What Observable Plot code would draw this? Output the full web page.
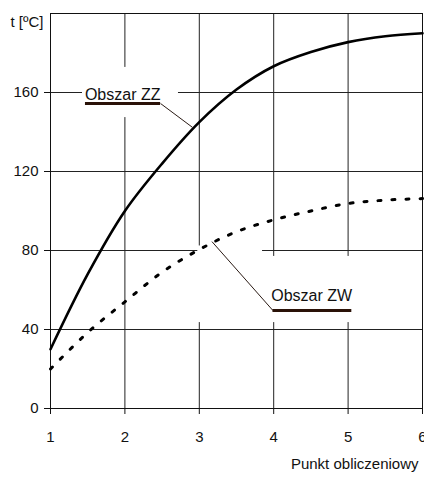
<!DOCTYPE html>
<html>
<head>
<meta charset="utf-8">
<script src="https://cdn.jsdelivr.net/npm/d3@7"></script>
<script src="https://cdn.jsdelivr.net/npm/@observablehq/plot@0.6"></script>
<style>
  html, body { margin: 0; padding: 0; background: #fff; }
  svg { display: block; }
</style>
</head>
<body>
<div id="chart"></div>
<script>
// Data
const points = [1, 1.5, 2, 2.5, 3, 3.5, 4, 4.5, 5, 5.5, 6];
const zzValues = [30, 68, 100, 124, 145, 161.5, 173.3, 180.5, 185.5, 188.5, 190];
const zwValues = [20, 38.5, 54, 69, 80.5, 89.5, 95.5, 100, 103.8, 105.5, 106.3];
const xTicks = [1, 2, 3, 4, 5, 6];
const yTicks = [0, 40, 80, 120, 160];
const xGrid = [2, 3, 4, 5];
const yGrid = [40, 80, 120, 160];
const xTitle = "Punkt obliczeniowy";
const yTitle = "t [ºC]";
const seriesNames = ["Obszar ZZ", "Obszar ZW"];

// Annotation anchors (data units)
const labelX = [1.97, 4.51];
const labelY = [157.5, 55.7];
const underX1 = [1.47, 3.99];
const underX2 = [2.48, 5.05];
const underY = [154.4, 49.6];
const leaderFromX = [2.48, 3.99];
const leaderToX = [2.91, 3.17];
const leaderToY = [142.3, 84.5];
const gapBoxes = [
  {x1: 1.43, x2: 2.72, y1: 147.3, y2: 172.7},
  {x1: 2.98, x2: 3.85, y1: 43.5, y2: 82.3},
  {x1: 3.85, x2: 5.24, y1: 43.5, y2: 77}
];

const zz = points.map((p, i) => ({x: p, y: zzValues[i]}));
const zw = points.map((p, i) => ({x: p, y: zwValues[i]}));
const notes = seriesNames.map((t, i) => ({
  text: t, x: labelX[i], y: labelY[i],
  ux1: underX1[i], ux2: underX2[i], uy: underY[i],
  fx: leaderFromX[i], lx: leaderToX[i], ly: leaderToY[i]
}));

const font = "'Liberation Sans', Arial, sans-serif";

const chart = Plot.plot({
  width: 424,
  height: 478,
  marginLeft: 50,
  marginRight: 2,
  marginTop: 13,
  marginBottom: 70,
  x: {domain: [1, 6]},
  y: {domain: [0, 200]},
  style: {fontFamily: font, fontSize: "15px", color: "#111", background: "white"},
  marks: [
    Plot.ruleY(yGrid, {stroke: "#222", strokeWidth: 1}),
    Plot.ruleX(xGrid, {stroke: "#222", strokeWidth: 1}),
    Plot.rect(gapBoxes, {x1: "x1", x2: "x2", y1: "y1", y2: "y2", fill: "white"}),
    Plot.frame({stroke: "#111", strokeWidth: 1}),
    Plot.line(zz, {x: "x", y: "y", stroke: "#000", strokeWidth: 2.6, curve: "catmull-rom"}),
    Plot.line(zw, {x: "x", y: "y", stroke: "#000", strokeWidth: 3, strokeDasharray: "3,11", curve: "catmull-rom"}),
    Plot.link(notes, {x1: "fx", y1: "uy", x2: "lx", y2: "ly", stroke: "#2a1a14", strokeWidth: 1}),
    Plot.ruleY(notes, {x1: "ux1", x2: "ux2", y: "uy", stroke: "#2a1208", strokeWidth: 3}),
    Plot.text(notes, {x: "x", y: "y", text: "text", fill: "#111", fontSize: 16, lineAnchor: "bottom", dy: 3}),
    Plot.axisY({ticks: yTicks, tickSize: 6, tickPadding: 6, label: null, fontSize: 15}),
    Plot.axisX({ticks: xTicks, tickSize: 6, tickPadding: 17, label: null, fontSize: 15, tickFormat: d => String(d)}),
    Plot.text([yTitle], {frameAnchor: "top-left", text: d => d, textAnchor: "end", lineAnchor: "middle", dx: -7, dy: 9, fontSize: 15, fill: "#111"}),
    Plot.text([xTitle], {frameAnchor: "bottom-right", text: d => d, textAnchor: "end", lineAnchor: "middle", dx: -4, dy: 56, fontSize: 15, fill: "#111"})
  ]
});
document.getElementById("chart").appendChild(chart);
</script>
</body>
</html>
